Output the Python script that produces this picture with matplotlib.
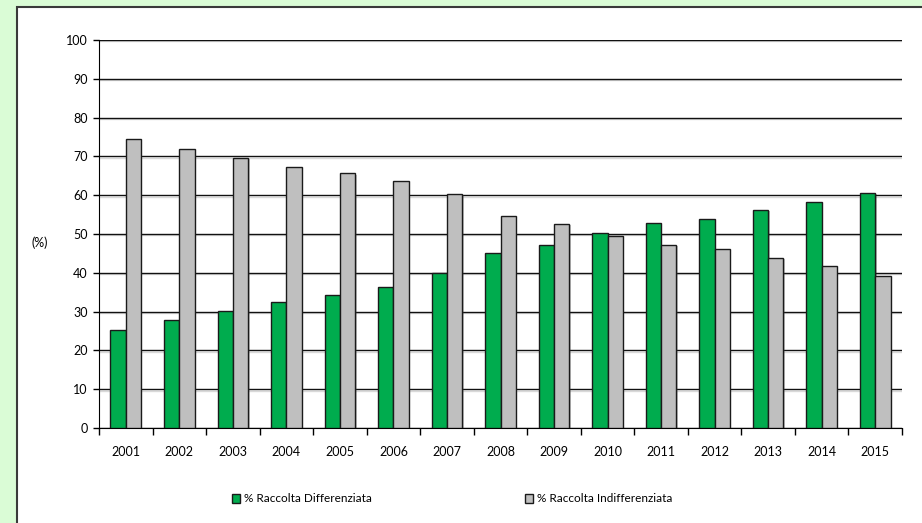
import numpy as np
import matplotlib.pyplot as plt
from matplotlib.patches import Rectangle, Patch
import matplotlib.patheffects as pe

# dati
anni = ['2001', '2002', '2003', '2004', '2005', '2006', '2007', '2008',
        '2009', '2010', '2011', '2012', '2013', '2014', '2015']
differenziata = [25.3, 27.9, 30.2, 32.6, 34.3, 36.3, 39.9, 45.2,
                 47.2, 50.3, 52.9, 53.9, 56.2, 58.2, 60.6]
indifferenziata = [74.5, 71.9, 69.7, 67.3, 65.6, 63.7, 60.3, 54.6,
                   52.6, 49.6, 47.2, 46.2, 43.9, 41.8, 39.3]

plt.rcParams['font.family'] = ['Lato', 'DejaVu Sans']

fig = plt.figure(figsize=(9.22, 5.23), dpi=100)
fig.patch.set_facecolor('#dafcd6')

# riquadro bianco del grafico
box = Rectangle((17 / 922, -0.05), 1.0, (523 - 7) / 523 + 0.05,
                transform=fig.transFigure, facecolor='white',
                edgecolor='#3a3a3a', linewidth=1.5, zorder=-5)
fig.patches.append(box)

ax = fig.add_axes([99 / 922, 95 / 523, (902 - 99) / 922, 388 / 523])
ax.set_facecolor('none')
ax.set_zorder(2)

x = np.arange(len(anni))
w = 0.286
ombra = [pe.SimplePatchShadow(offset=(1, -1), alpha=0.3), pe.Normal()]
b1 = ax.bar(x - w / 2, differenziata, w, color='#00ac4e', edgecolor='#1a1a1a',
            linewidth=1, zorder=3)
b2 = ax.bar(x + w / 2, indifferenziata, w, color='#bfbfbf', edgecolor='#1a1a1a',
            linewidth=1, zorder=3)
for r in list(b1) + list(b2):
    r.set_path_effects(ombra)

ax.set_xlim(-0.5, len(anni) - 0.5)
ax.set_ylim(0, 100)
ax.set_yticks(range(0, 101, 10))
ax.set_xticks(x)
ax.set_xticklabels(anni)
ax.set_xticks(np.arange(-0.5, len(anni), 1), minor=True)
ax.tick_params(axis='x', which='major', length=0, pad=13, labelsize=9)
ax.tick_params(axis='x', which='minor', length=5, width=1, color='black')
ax.tick_params(axis='y', length=4, width=1, labelsize=9, pad=4)

ax.grid(True, axis='y', color='#111111', linewidth=1,
        path_effects=[pe.SimpleLineShadow(offset=(0, -1), alpha=0.15), pe.Normal()])
ax.set_axisbelow(True)
for s in ['top', 'right']:
    ax.spines[s].set_visible(False)
ax.spines['left'].set_color('black')
ax.spines['bottom'].set_color('black')

fig.text(40 / 922, 1 - 243 / 523, '(%)', fontsize=9, ha='center', va='center')

maniglie = [Patch(facecolor='#00ac4e', edgecolor='#1a1a1a'),
            Patch(facecolor='#bfbfbf', edgecolor='#1a1a1a')]
fig.legend(maniglie, ['% Raccolta Differenziata', '% Raccolta Indifferenziata'],
           loc='center', bbox_to_anchor=(452 / 922, 1 - 499 / 523), ncol=2,
           frameon=False, fontsize=8.5, handlelength=0.7, handleheight=0.7,
           handletextpad=0.3, columnspacing=13)

fig.savefig('out.png', dpi=100, facecolor=fig.get_facecolor())
